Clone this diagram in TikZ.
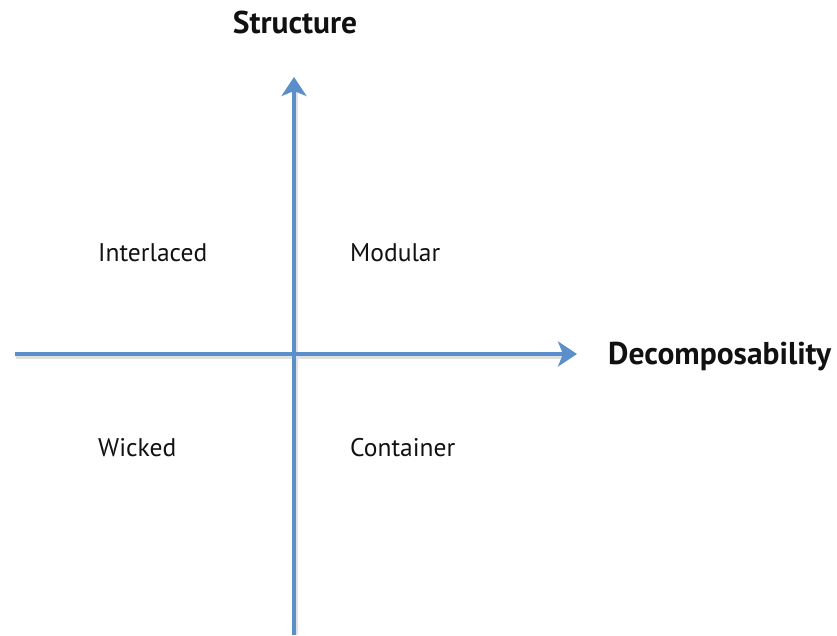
\documentclass[tikz,border=0pt]{standalone}
\usepackage{fontspec}
\setmainfont{PT Sans}
\usetikzlibrary{arrows.meta,positioning}
\definecolor{axisblue}{HTML}{5A8FCB}
\definecolor{ink}{HTML}{111111}

\begin{document}
\begin{tikzpicture}[x=1pt,y=1pt,
  axis/.style={axisblue,line width=4pt,-{Stealth[length=19pt,width=25pt,inset=5pt]}},
  shade/.style={black!12,line width=4pt},
  quad/.style={anchor=base west,inner sep=0pt,ink,font=\fontsize{25.5}{30}\selectfont},
  title/.style={inner sep=0pt,ink,font=\fontsize{31.5}{38}\selectfont\bfseries}]
\useasboundingbox (0,0) rectangle (837,635);
% axes
\coordinate (xs) at (15,281);
\coordinate (xe) at (577,281);
\coordinate (ys) at (294,0);
\coordinate (ye) at (294,558);
\draw[shade] ([shift={(1,-3)}]xs) -- ([shift={(-14,-3)}]xe);
\draw[shade] ([shift={(2,0)}]ys) -- ([shift={(2,-14)}]ye);
\draw[axis] (xs) -- (xe);
\draw[axis] (ys) -- (ye);
% axis titles
\node[title,anchor=base] (structure) at (295,601) {Structure};
\node[title,anchor=base west] (decomp) at (608,270) {Decomposability};
% quadrants
\node[quad] (interlaced) at (98,373) {Interlaced};
\node[quad] (modular) at (350,373) {Modular};
\node[quad] (wicked) at (98,179) {Wicked};
\node[quad] (container) at (350,179) {Container};
\end{tikzpicture}
\end{document}
